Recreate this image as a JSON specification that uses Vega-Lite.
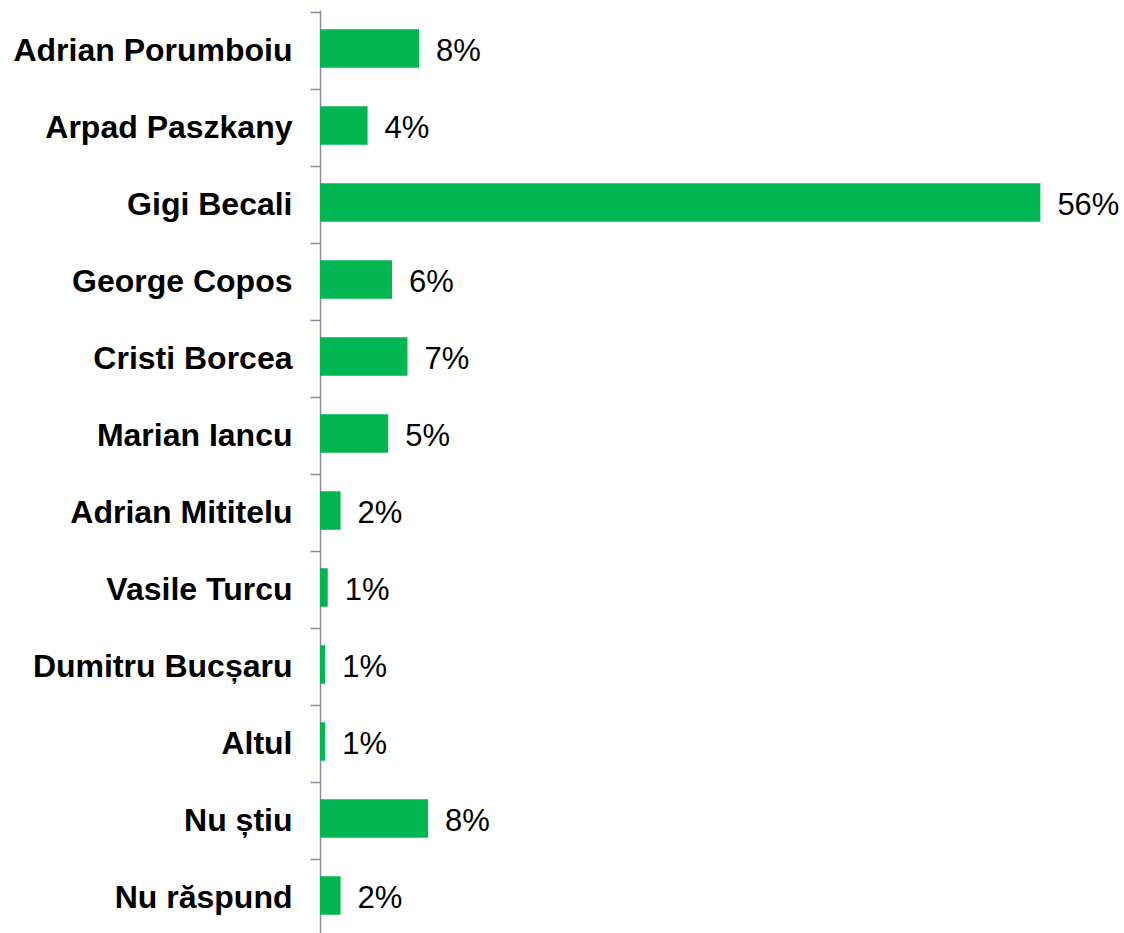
{
  "$schema": "https://vega.github.io/schema/vega-lite/v6.json",
  "width": 804,
  "height": 924,
  "autosize": {"type": "none"},
  "padding": {"left": 320, "top": 10, "right": 0, "bottom": 0},
  "background": "white",
  "config": {"view": {"stroke": null}},
  "data": {
    "values": [
      {"name": "Adrian Porumboiu", "value": 7.7, "label": "8%"},
      {"name": "Arpad Paszkany", "value": 3.7, "label": "4%"},
      {"name": "Gigi Becali", "value": 56, "label": "56%"},
      {"name": "George Copos", "value": 5.6, "label": "6%"},
      {"name": "Cristi Borcea", "value": 6.8, "label": "7%"},
      {"name": "Marian Iancu", "value": 5.3, "label": "5%"},
      {"name": "Adrian Mititelu", "value": 1.6, "label": "2%"},
      {"name": "Vasile Turcu", "value": 0.6, "label": "1%"},
      {"name": "Dumitru Bucșaru", "value": 0.4, "label": "1%"},
      {"name": "Altul", "value": 0.4, "label": "1%"},
      {"name": "Nu știu", "value": 8.4, "label": "8%"},
      {"name": "Nu răspund", "value": 1.6, "label": "2%"}
    ]
  },
  "encoding": {
    "y": {
      "field": "name",
      "type": "nominal",
      "sort": null,
      "scale": {"paddingInner": 0.5, "paddingOuter": 0.25},
      "axis": {
        "title": null,
        "tickOffset": -36.5,
        "labelOffset": 38.5,
        "tickSize": 10,
        "tickColor": "#8a8aa2",
        "domainColor": "#8a8aa2",
        "domainWidth": 1.5,
        "tickWidth": 1.5,
        "labelFont": "Liberation Sans",
        "labelFontWeight": "bold",
        "labelFontSize": 32,
        "labelColor": "#000000",
        "labelPadding": 18,
        "labelLimit": 400
      }
    },
    "x": {
      "field": "value",
      "type": "quantitative",
      "scale": {"domain": [0, 62.5], "nice": false},
      "axis": null
    }
  },
  "layer": [
    {"mark": {"type": "bar", "color": "#00b651"}},
    {
      "mark": {"type": "text", "align": "left", "baseline": "middle", "dx": 17, "dy": 3, "font": "Liberation Sans", "fontSize": 31, "color": "#000000"},
      "encoding": {"text": {"field": "label"}}
    }
  ]
}
